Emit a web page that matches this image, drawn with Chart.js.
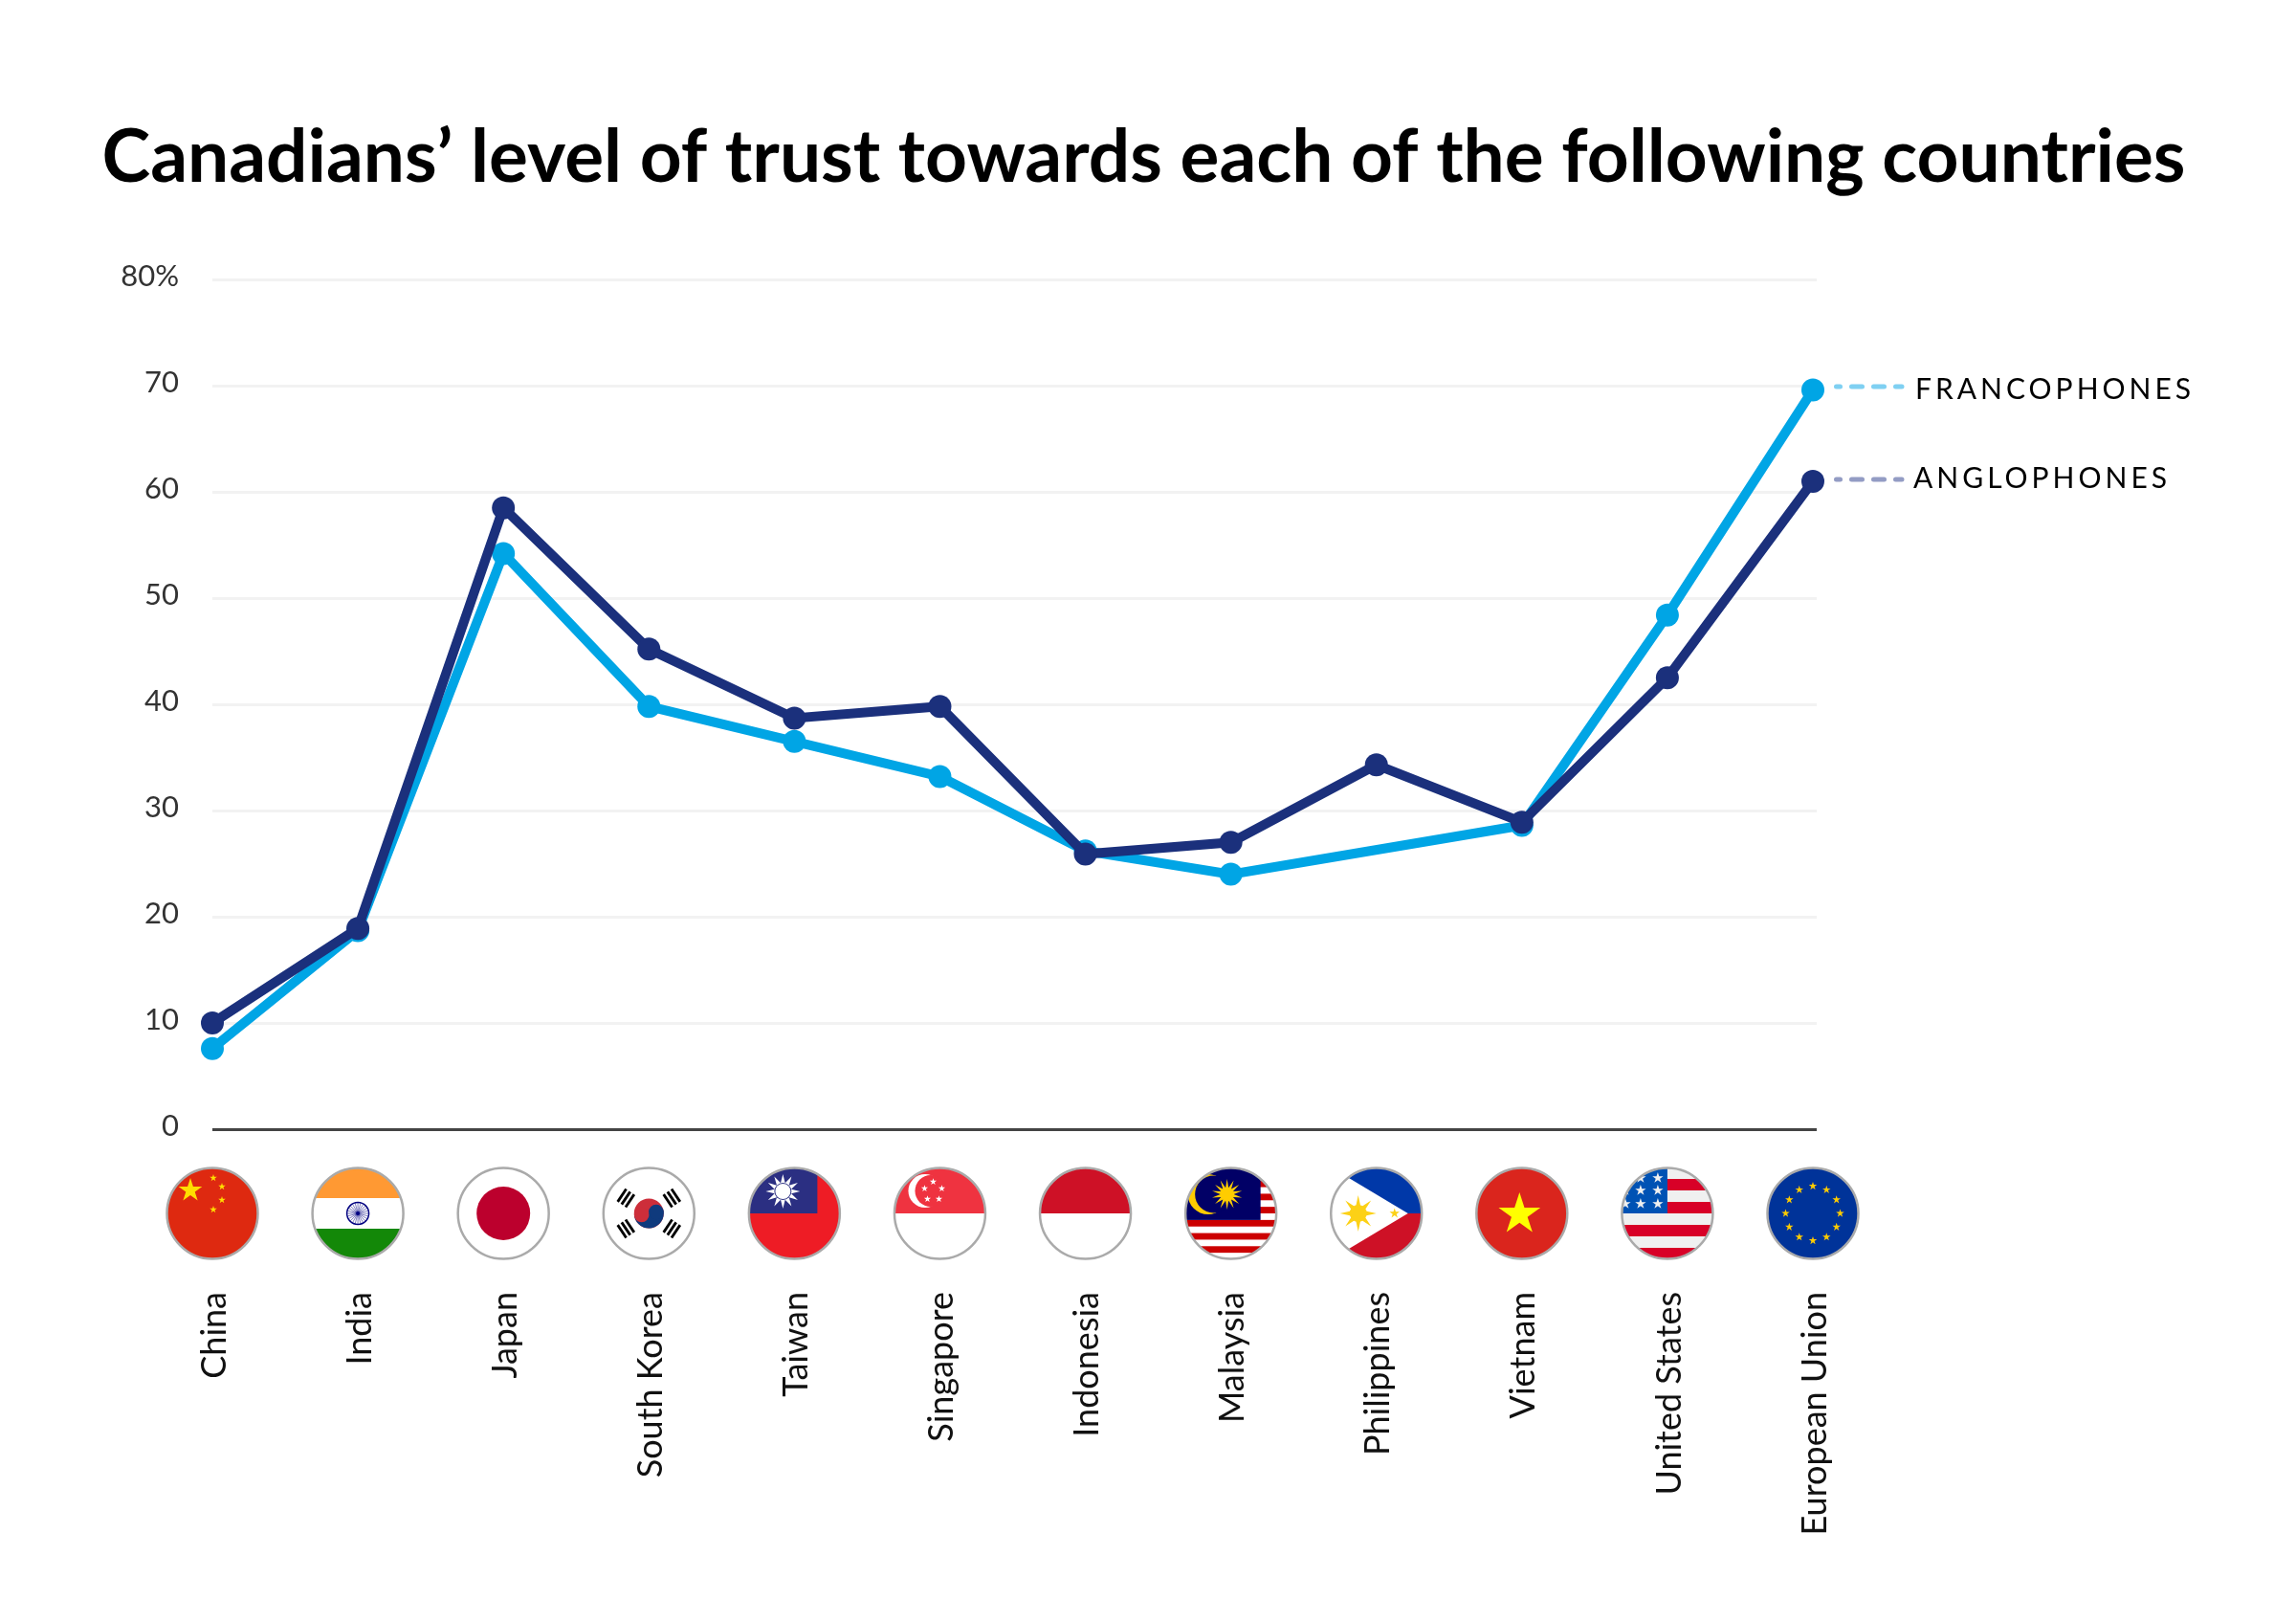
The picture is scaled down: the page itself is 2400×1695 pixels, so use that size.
<!DOCTYPE html>
<html>
<head>
<meta charset="utf-8">
<title>Canadians' level of trust</title>
<style>
  html, body { margin: 0; padding: 0; background: #fff; }
  canvas { display: block; }
</style>
<script src="https://cdn.jsdelivr.net/npm/chart.js@4"></script>
</head>
<body>
<canvas id="trustChart" width="2400" height="1695" style="width:2400px;height:1695px"></canvas>
<script>
const categories = ['China', 'India', 'Japan', 'South Korea', 'Taiwan', 'Singapore', 'Indonesia', 'Malaysia', 'Philippines', 'Vietnam', 'United States', 'European Union'];
const francophones = [7.6, 18.7, 54.2, 39.8, 36.5, 33.2, 26.2, 24.0, null, 28.6, 48.4, 69.6];
const anglophones = [10.0, 18.9, 58.5, 45.2, 38.7, 39.8, 25.9, 27.0, 34.3, 28.9, 42.5, 61.0];
const yTickLabels = ['0', '10', '20', '30', '40', '50', '60', '70', '80%'];
const seriesLabels = ['FRANCOPHONES', 'ANGLOPHONES'];

const FONT = 'Lato, sans-serif';
const LIGHT = '#00a5e5';
const DARK = '#1b307c';

function star(ctx, x, y, outer, color, points = 5, inner = outer * 0.382) {
  ctx.fillStyle = color;
  ctx.beginPath();
  for (let i = 0; i < points * 2; i++) {
    const a = -Math.PI / 2 + i * Math.PI / points;
    const r = i % 2 ? inner : outer;
    ctx.lineTo(x + r * Math.cos(a), y + r * Math.sin(a));
  }
  ctx.closePath();
  ctx.fill();
}

function disc(ctx, x, y, r, color) {
  ctx.fillStyle = color;
  ctx.beginPath();
  ctx.arc(x, y, r, 0, Math.PI * 2);
  ctx.fill();
}

function rect(ctx, x, y, w, h, color) {
  ctx.fillStyle = color;
  ctx.fillRect(x, y, w, h);
}

// Each flag is drawn around 0,0 and clipped to a circle of radius 48
const flags = {
  'China': (c) => {
    rect(c, -48, -48, 96, 96, '#de2910');
    star(c, -23, -24, 13, '#ffde00');
    [[1, -37], [10, -28], [10, -14], [1, -4]].forEach(([x, y]) => star(c, x, y, 4, '#ffde00'));
  },
  'India': (c) => {
    rect(c, -48, -48, 96, 32, '#ff9933');
    rect(c, -48, 16, 96, 32, '#138808');
    c.strokeStyle = '#000080';
    c.lineWidth = 1.5;
    c.beginPath();
    c.arc(0, 0, 11.5, 0, Math.PI * 2);
    c.stroke();
    c.lineWidth = 0.5;
    for (let i = 0; i < 24; i++) {
      const a = i * Math.PI / 12;
      c.beginPath();
      c.moveTo(0, 0);
      c.lineTo(11 * Math.cos(a), 11 * Math.sin(a));
      c.stroke();
    }
    disc(c, 0, 0, 2, '#000080');
  },
  'Japan': (c) => disc(c, 0, 0, 28, '#bc002d'),
  'South Korea': (c) => {
    disc(c, 0, 0, 15.5, '#cd2e3a');
    c.fillStyle = '#0f3a7d';
    c.beginPath();
    c.arc(0, 0, 15.5, -0.2, Math.PI - 0.2);
    c.closePath();
    c.fill();
    disc(c, -7.6, 1.5, 7.8, '#cd2e3a');
    disc(c, 7.6, -1.5, 7.8, '#0f3a7d');
    [[-24, -16, -1], [24, -16, 1], [-24, 16, 1], [24, 16, -1]].forEach(([x, y, s]) => {
      c.save();
      c.translate(x, y);
      c.rotate(s * 0.98);
      [-5, 0, 5].forEach((d) => rect(c, -8, d - 1.4, 16, 2.8, '#000'));
      c.restore();
    });
  },
  'Taiwan': (c) => {
    rect(c, -48, -48, 96, 96, '#ee1c25');
    rect(c, -48, -48, 72, 48, '#2b2f82');
    star(c, -12, -23, 18, '#fff', 12, 9);
    disc(c, -12, -23, 9, '#2b2f82');
    disc(c, -12, -23, 8, '#fff');
  },
  'Singapore': (c) => {
    rect(c, -48, -48, 96, 48, '#ef3340');
    disc(c, -15.5, -23.5, 17.5, '#fff');
    disc(c, -9.5, -23.5, 16.5, '#ef3340');
    [[-7, -33], [-16, -26], [2, -26], [-13, -15], [-1, -15]].forEach(([x, y]) => star(c, x, y, 3.8, '#fff'));
  },
  'Indonesia': (c) => rect(c, -48, -48, 96, 48, '#ce1126'),
  'Malaysia': (c) => {
    for (let i = 0; i < 14; i += 2) rect(c, -48, -48 + i * 6.857, 96, 6.857, '#cc0000');
    rect(c, -48, -48, 79, 54.9, '#010066');
    disc(c, -24, -20, 21, '#ffcc00');
    disc(c, -18, -20, 19.5, '#010066');
    star(c, -4, -20, 16, '#ffcc00', 14, 7);
  },
  'Philippines': (c) => {
    rect(c, -48, -48, 96, 48, '#0038a8');
    rect(c, -48, 0, 96, 48, '#ce1126');
    c.fillStyle = '#fff';
    c.beginPath();
    c.moveTo(33, 0);
    c.lineTo(-60, -55.7);
    c.lineTo(-60, 55.7);
    c.closePath();
    c.fill();
    star(c, -19, 0, 19, '#fcd116', 8, 7);
    disc(c, -19, 0, 9, '#fcd116');
    star(c, 19, 0, 5.5, '#fcd116');
  },
  'Vietnam': (c) => {
    rect(c, -48, -48, 96, 96, '#da251d');
    star(c, -2.5, 1, 23, '#ffff00');
  },
  'United States': (c) => {
    rect(c, -48, -48, 96, 96, '#f0f0f0');
    [-36, -12, 12, 36].forEach((y) => rect(c, -48, y, 96, 12, '#d80027'));
    rect(c, -48, -48, 48, 48, '#0052b4');
    [-37, -24, -10].forEach((y) => [-10, -28, -44].forEach((x) => star(c, x, y, 6, '#f0f0f0')));
  },
  'European Union': (c) => {
    rect(c, -48, -48, 96, 96, '#003399');
    for (let i = 0; i < 12; i++) {
      const a = i * Math.PI / 6;
      star(c, 28.5 * Math.cos(a), 28.5 * Math.sin(a), 4.5, '#ffcc00');
    }
  }
};

const flagRow = {
  id: 'flagRow',
  afterDraw(chart) {
    const { ctx, scales: { x } } = chart;
    categories.forEach((name, i) => {
      ctx.save();
      ctx.translate(x.getPixelForTick(i), 1268);
      ctx.save();
      ctx.beginPath();
      ctx.arc(0, 0, 48, 0, Math.PI * 2);
      ctx.clip();
      rect(ctx, -48, -48, 96, 96, '#fff');
      flags[name](ctx);
      ctx.restore();
      ctx.strokeStyle = '#aaaaaa';
      ctx.lineWidth = 2.5;
      ctx.beginPath();
      ctx.arc(0, 0, 47.5, 0, Math.PI * 2);
      ctx.stroke();
      ctx.restore();
    });
  }
};

// Grid runs a little past the last point, and the series are named at the right edge
const rightEdge = {
  id: 'rightEdge',
  beforeDatasetsDraw(chart) {
    const { ctx, chartArea, scales: { y } } = chart;
    ctx.save();
    ctx.lineWidth = 3;
    y.ticks.forEach((t) => {
      const py = Math.round(y.getPixelForValue(t.value) - 1.5) + 1.5;
      ctx.strokeStyle = t.value === 0 ? '#444444' : '#f2f2f2';
      ctx.beginPath();
      ctx.moveTo(chartArea.right, py);
      ctx.lineTo(chartArea.right + 4, py);
      ctx.stroke();
    });
    ctx.restore();
  },
  afterDraw(chart) {
    const { ctx } = chart;
    const rows = [
      { y: 404, base: 417, x: 2002, dash: '#7fd0f2' },
      { y: 501, base: 510, x: 2000, dash: '#939cc4' }
    ];
    ctx.save();
    rows.forEach((row, i) => {
      ctx.strokeStyle = row.dash;
      ctx.lineWidth = 5;
      ctx.lineCap = 'round';
      ctx.setLineDash([11, 12]);
      ctx.lineDashOffset = 7;
      ctx.beginPath();
      ctx.moveTo(1919.5, row.y);
      ctx.lineTo(1988, row.y);
      ctx.stroke();
      ctx.setLineDash([]);
      ctx.fillStyle = '#000';
      ctx.font = '30px ' + FONT;
      ctx.letterSpacing = '4px';
      ctx.textAlign = 'left';
      ctx.textBaseline = 'alphabetic';
      ctx.fillText(seriesLabels[i], row.x, row.base);
    });
    ctx.restore();
  }
};

new Chart(document.getElementById('trustChart'), {
  type: 'line',
  data: {
    labels: categories,
    datasets: [
      { label: 'Anglophones', data: anglophones, borderColor: DARK, backgroundColor: DARK },
      { label: 'Francophones', data: francophones, borderColor: LIGHT, backgroundColor: LIGHT }
    ]
  },
  plugins: [rightEdge, flagRow],
  options: {
    responsive: false,
    animation: false,
    devicePixelRatio: 1,
    spanGaps: true,
    clip: false,
    layout: { padding: { right: 9 } },
    elements: {
      line: { borderWidth: 10, tension: 0, fill: false },
      point: { radius: 12, borderWidth: 0, hoverRadius: 12 }
    },
    plugins: {
      legend: { display: false },
      tooltip: { enabled: false },
      title: {
        display: true,
        text: 'Canadians\u2019 level of trust towards each of the following countries',
        color: '#000',
        font: { family: FONT, size: 76.6, weight: 'bold', lineHeight: 1.2 },
        padding: { top: 119.5, bottom: 80.6 }
      }
    },
    scales: {
      x: {
        type: 'category',
        offset: false,
        grid: { display: false, drawTicks: false },
        border: { display: false },
        afterFit: (scale) => { scale.height = 515; },
        ticks: {
          autoSkip: false,
          minRotation: 90,
          maxRotation: 90,
          padding: 170,
          labelOffset: 2,
          color: '#111',
          font: { family: FONT, size: 36 }
        }
      },
      y: {
        min: 0,
        max: 80,
        grid: {
          drawTicks: false,
          lineWidth: 3,
          color: (ctx) => (ctx.tick && ctx.tick.value === 0 ? '#444444' : '#f2f2f2')
        },
        border: { display: false },
        afterFit: (scale) => { scale.width = 222; },
        ticks: {
          stepSize: 10,
          padding: 35,
          labelOffset: -3.5,
          color: '#333',
          font: { family: FONT, size: 31 },
          callback: (value, i) => yTickLabels[i]
        }
      },
      // empty axis, only keeps the room for the series names on the right
      yRoom: {
        position: 'right',
        grid: { display: false, drawTicks: false },
        border: { display: false },
        ticks: { display: false },
        afterFit: (scale) => { scale.width = 496; }
      }
    }
  }
});
</script>
</body>
</html>
